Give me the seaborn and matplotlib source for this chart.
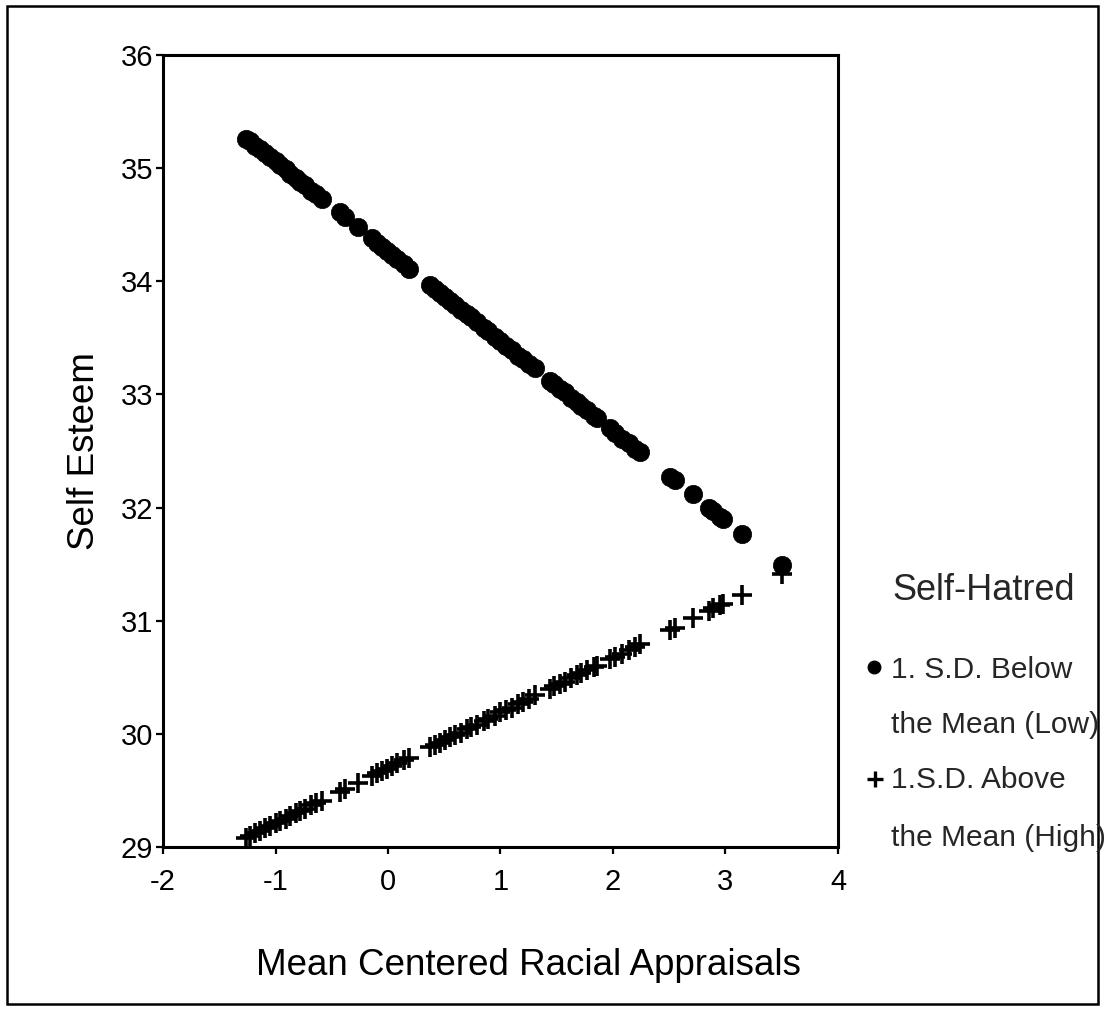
import matplotlib
matplotlib.use("Agg")
import matplotlib.pyplot as plt
from matplotlib.lines import Line2D
from matplotlib.patches import Rectangle
import seaborn as sns
import pandas as pd

# ---- data ----
racial_appraisals = [-1.26, -1.23, -1.18, -1.14, -1.09, -1.05, -1.00, -0.96, -0.91, -0.87,
                     -0.82, -0.78, -0.74, -0.68, -0.64, -0.59, -0.43, -0.38, -0.27, -0.14,
                     -0.10, -0.05, -0.01, 0.04, 0.08, 0.14, 0.19, 0.37, 0.42, 0.46,
                     0.51, 0.55, 0.60, 0.65, 0.70, 0.74, 0.79, 0.85, 0.89, 0.95,
                     1.00, 1.05, 1.10, 1.16, 1.20, 1.25, 1.31, 1.44, 1.48, 1.53,
                     1.57, 1.63, 1.68, 1.72, 1.77, 1.83, 1.86, 1.97, 2.02, 2.08,
                     2.14, 2.20, 2.24, 2.51, 2.55, 2.71, 2.85, 2.89, 2.95, 2.98,
                     3.15, 3.50]

esteem_low = [35.26, 35.24, 35.20, 35.17, 35.13, 35.10, 35.06, 35.03, 34.99, 34.95,
              34.91, 34.88, 34.85, 34.80, 34.77, 34.73, 34.61, 34.57, 34.48, 34.38,
              34.34, 34.30, 34.27, 34.23, 34.20, 34.15, 34.11, 33.97, 33.93, 33.90,
              33.86, 33.83, 33.79, 33.75, 33.71, 33.68, 33.64, 33.59, 33.56, 33.51,
              33.47, 33.43, 33.39, 33.34, 33.31, 33.27, 33.23, 33.12, 33.09, 33.05,
              33.02, 32.97, 32.93, 32.90, 32.86, 32.81, 32.79, 32.70, 32.66, 32.61,
              32.57, 32.52, 32.49, 32.27, 32.24, 32.12, 32.00, 31.97, 31.92, 31.90,
              31.77, 31.49]

esteem_high = [29.08, 29.10, 29.12, 29.14, 29.17, 29.19, 29.21, 29.23, 29.25, 29.27,
               29.30, 29.32, 29.34, 29.37, 29.39, 29.41, 29.49, 29.51, 29.57, 29.63,
               29.65, 29.67, 29.69, 29.72, 29.74, 29.77, 29.79, 29.88, 29.90, 29.92,
               29.95, 29.97, 29.99, 30.01, 30.04, 30.06, 30.08, 30.11, 30.13, 30.16,
               30.19, 30.21, 30.23, 30.26, 30.28, 30.31, 30.34, 30.40, 30.42, 30.44,
               30.46, 30.49, 30.52, 30.54, 30.56, 30.59, 30.60, 30.66, 30.68, 30.71,
               30.74, 30.77, 30.79, 30.92, 30.94, 31.02, 31.09, 31.11, 31.14, 31.15,
               31.23, 31.41]

x_ticks = [-2, -1, 0, 1, 2, 3, 4]
y_ticks = [29, 30, 31, 32, 33, 34, 35, 36]
legend_title = "Self-Hatred"
legend_low = ["1. S.D. Below", "the Mean (Low)"]
legend_high = ["1.S.D. Above", "the Mean (High)"]

sns.set_style("white")
plt.rcParams["font.family"] = ["Liberation Sans", "DejaVu Sans"]

df_low = pd.DataFrame({"x": racial_appraisals, "y": esteem_low})
df_high = pd.DataFrame({"x": racial_appraisals, "y": esteem_high})

W, H = 1104, 1013
fig = plt.figure(figsize=(W / 100, H / 100), dpi=100)
ax = fig.add_axes([163 / W, 1 - 847 / H, (838 - 163) / W, (847 - 55) / H])

sns.scatterplot(data=df_low, x="x", y="y", ax=ax, marker="o", s=175,
                color="black", edgecolor="black", linewidth=0.5, zorder=3)
sns.scatterplot(data=df_high, x="x", y="y", ax=ax, marker="+", s=210,
                color="black", linewidth=2.6, zorder=3)

ax.set_xlim(-2, 4)
ax.set_ylim(29, 36)
ax.set_xticks(x_ticks)
ax.set_yticks(y_ticks)
ax.set_xticklabels([str(t) for t in x_ticks])
ax.set_yticklabels([str(t) for t in y_ticks])

for sp in ax.spines.values():
    sp.set_visible(True)
    sp.set_color("black")
    sp.set_linewidth(2.2)

ax.tick_params(axis="x", direction="out", length=5, width=1.6, pad=10,
               labelsize=21, colors="black", bottom=True)
ax.tick_params(axis="y", direction="out", length=5, width=1.6, pad=2,
               labelsize=21, colors="black", left=True)

ax.set_xlabel("Mean Centered Racial Appraisals", fontsize=26.5, color="black")
ax.set_ylabel("Self Esteem", fontsize=26.5, color="black")
ax.xaxis.label.set_va("center")
ax.yaxis.label.set_va("center")
ax.xaxis.set_label_coords(0.542, -(965 - 847) / (847 - 55))
ax.yaxis.set_label_coords(-(163 - 85) / (838 - 163), 0.5)

# ---- legend drawn at figure level ----
def fx(px):
    return px / W

def fy(py):
    return 1 - py / H

fig.text(fx(984), fy(590), legend_title, fontsize=26, ha="center", va="center")
fig.add_artist(Line2D([fx(874)], [fy(667)], marker="o", markersize=9,
                      color="black", linestyle="none", transform=fig.transFigure))
fig.add_artist(Line2D([fx(875)], [fy(779)], marker="+", markersize=12,
                      markeredgewidth=2.4, color="black", linestyle="none",
                      transform=fig.transFigure))
fig.text(fx(891), fy(670), legend_low[0], fontsize=21.5, ha="left", va="center")
fig.text(fx(891), fy(725), legend_low[1], fontsize=21.5, ha="left", va="center")
fig.text(fx(891), fy(780), legend_high[0], fontsize=21.5, ha="left", va="center")
fig.text(fx(891), fy(838), legend_high[1], fontsize=21.5, ha="left", va="center")

# outer frame around the whole figure
fig.add_artist(Rectangle((fx(7), fy(1004)), fx(1098) - fx(7), fy(6) - fy(1004),
                         transform=fig.transFigure, fill=False,
                         edgecolor="black", linewidth=1.8))

fig.savefig("out.png", dpi=100, facecolor="white")
